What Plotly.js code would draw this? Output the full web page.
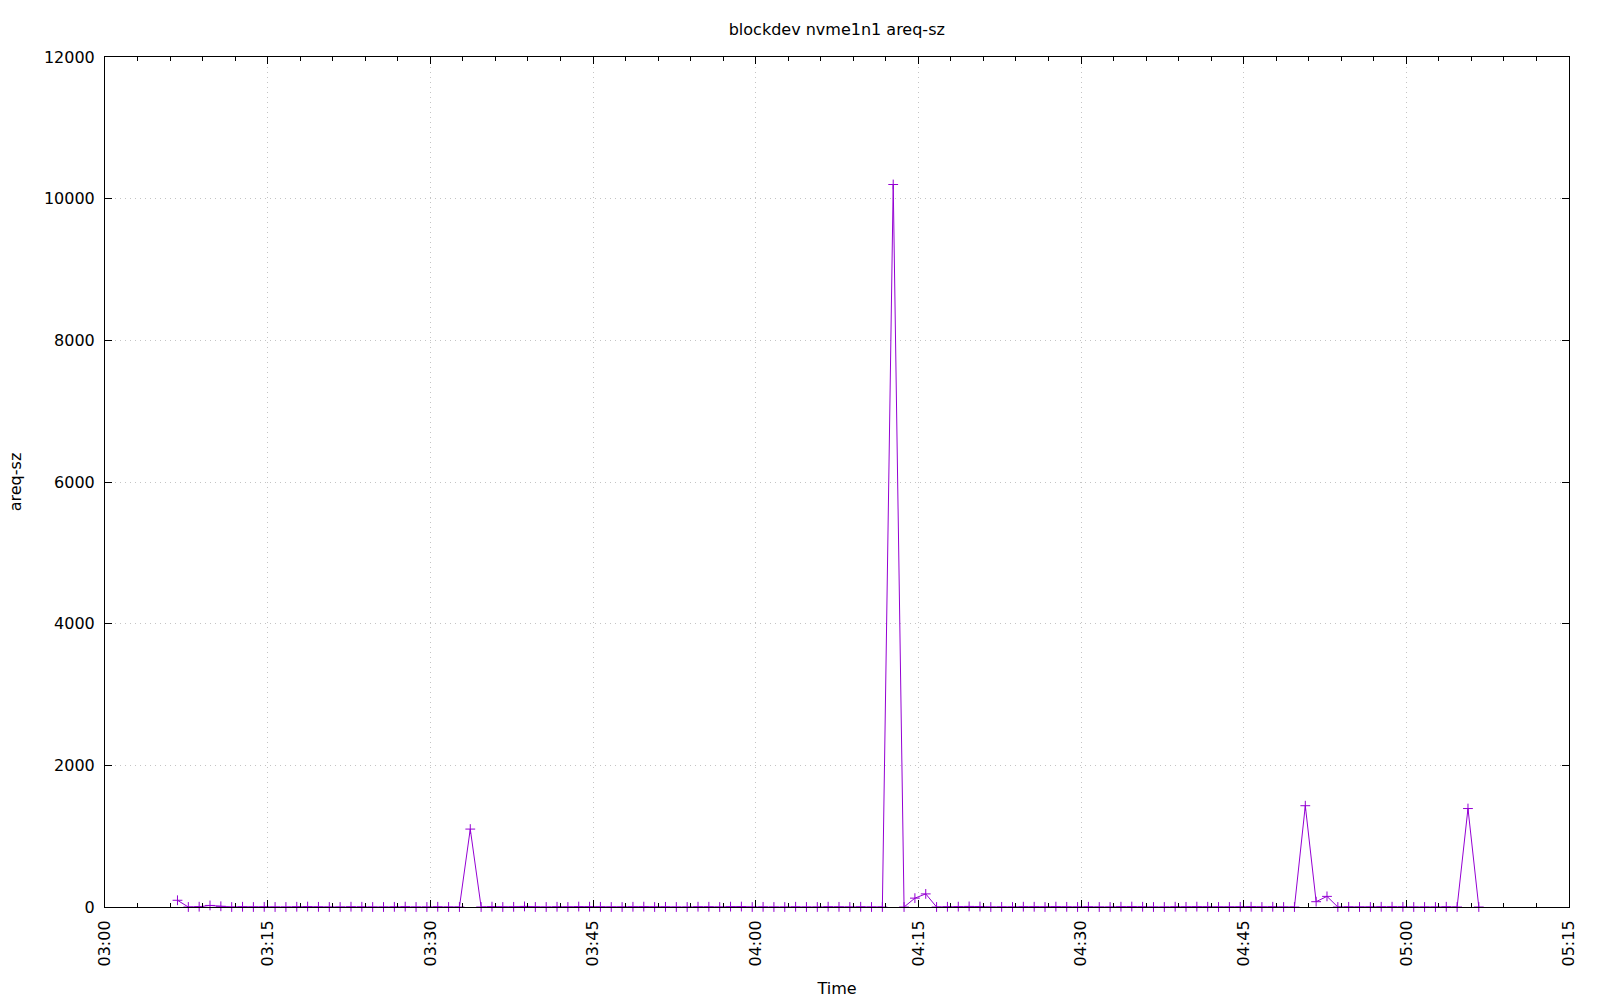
<!DOCTYPE html>
<html>
<head>
<meta charset="utf-8">
<script src="https://cdn.plot.ly/plotly-3.0.1.min.js"></script>
<style>html,body{margin:0;padding:0;background:#fff;}#chart{width:1600px;height:1000px;}</style>
</head>
<body>
<div id="chart"></div>
<script>
const chartTitle = "blockdev nvme1n1 areq-sz";
const xTitle = "Time";
const yTitle = "areq-sz";
const day = "2024-01-01 ";
const times = [
"03:06:41","03:07:41","03:08:41","03:09:41","03:10:41","03:11:41","03:12:41","03:13:41","03:14:41","03:15:41",
"03:16:41","03:17:41","03:18:41","03:19:41","03:20:41","03:21:41","03:22:41","03:23:41","03:24:41","03:25:41",
"03:26:41","03:27:41","03:28:41","03:29:41","03:30:41","03:31:41","03:32:41","03:33:41","03:34:41","03:35:41",
"03:36:41","03:37:41","03:38:41","03:39:41","03:40:41","03:41:41","03:42:41","03:43:41","03:44:41","03:45:41",
"03:46:41","03:47:41","03:48:41","03:49:41","03:50:41","03:51:41","03:52:41","03:53:41","03:54:41","03:55:41",
"03:56:41","03:57:41","03:58:41","03:59:41","04:00:41","04:01:41","04:02:41","04:03:41","04:04:41","04:05:41",
"04:06:41","04:07:41","04:08:41","04:09:41","04:10:41","04:11:41","04:12:41","04:13:41","04:14:41","04:15:41",
"04:16:41","04:17:41","04:18:41","04:19:41","04:20:41","04:21:41","04:22:41","04:23:41","04:24:41","04:25:41",
"04:26:41","04:27:41","04:28:41","04:29:41","04:30:41","04:31:41","04:32:41","04:33:41","04:34:41","04:35:41",
"04:36:41","04:37:41","04:38:41","04:39:41","04:40:41","04:41:41","04:42:41","04:43:41","04:44:41","04:45:41",
"04:46:41","04:47:41","04:48:41","04:49:41","04:50:41","04:51:41","04:52:41","04:53:41","04:54:41","04:55:41",
"04:56:41","04:57:41","04:58:41","04:59:41","05:00:41","05:01:41","05:02:41","05:03:41","05:04:41","05:05:41",
"05:06:41"
];
const areqSz = [
95, 0, 4, 22, 10, 0, 3, 0, 2, 0,
0, 3, 6, 2, 0, 0, 4, 3, 0, 0,
2, 5, 0, 0, 3, 0, 0, 1100, 0, 5,
0, 2, 8, 0, 0, 3, 0, 6, 4, 2,
0, 0, 3, 5, 0, 2, 0, 0, 4, 3,
0, 5, 6, 0, 2, 0, 0, 3, 0, 0,
4, 2, 0, 3, 0, 0, 10200, 0, 125, 185,
0, 3, 5, 8, 6, 0, 2, 0, 4, 3,
0, 5, 2, 0, 3, 0, 0, 4, 6, 3,
0, 0, 4, 2, 5, 3, 0, 0, 2, 4,
0, 3, 0, 0, 1430, 75, 150, 0, 2, 0,
0, 3, 4, 2, 0, 0, 0, 3, 0, 1390,
0
];
const xStart = "03:00:00", xEnd = "05:15:00";
const yTicks = [0, 2000, 4000, 6000, 8000, 10000, 12000];

const font = {family: "DejaVu Sans, sans-serif", size: 16, color: "#000"};
const trace = {
  x: times.map(t => day + t),
  y: areqSz,
  type: "scatter",
  mode: "lines+markers",
  cliponaxis: false,
  line: {color: "#9400D3", width: 1},
  marker: {symbol: "cross-thin-open", size: 7, line: {color: "#9400D3", width: 1}, color: "#9400D3"},
  hoverinfo: "x+y"
};
const grid = {showgrid: true, gridcolor: "#c4c4c4", griddash: "1px,4px", gridwidth: 1};
const layout = {
  width: 1600, height: 1000,
  margin: {l: 105, r: 31, t: 57, b: 93, pad: 0},
  paper_bgcolor: "#fff", plot_bgcolor: "#fff",
  font: font,
  showlegend: false,
  title: {text: chartTitle, font: font, x: 0.523, xanchor: "center", y: 0.971, yanchor: "middle"},
  xaxis: Object.assign({
    type: "date",
    range: [day + xStart, day + xEnd],
    dtick: 15 * 60 * 1000,
    tick0: day + xStart,
    tickformat: "%H:%M",
    tickangle: -90,
    ticks: "inside", ticklen: 7, tickcolor: "#000", tickwidth: 1,
    minor: {dtick: 3 * 60 * 1000, ticks: "inside", ticklen: 4, tickcolor: "#000", tickwidth: 1, showgrid: false},
    showline: true, linecolor: "#000", linewidth: 1, mirror: "allticks",
    zeroline: false,
    ticklabelstandoff: 6,
    title: {text: xTitle, font: font, standoff: 17},
    tickfont: font
  }, grid),
  yaxis: Object.assign({
    range: [0, 12000],
    tickvals: yTicks,
    ticktext: yTicks.map(String),
    ticks: "inside", ticklen: 7, tickcolor: "#000", tickwidth: 1,
    showline: true, linecolor: "#000", linewidth: 1, mirror: "allticks",
    zeroline: false,
    ticklabelstandoff: 6,
    title: {text: yTitle, font: font, standoff: 18},
    tickfont: font
  }, grid)
};
Plotly.newPlot("chart", [trace], layout, {displayModeBar: false, staticPlot: true});
</script>
</body>
</html>
